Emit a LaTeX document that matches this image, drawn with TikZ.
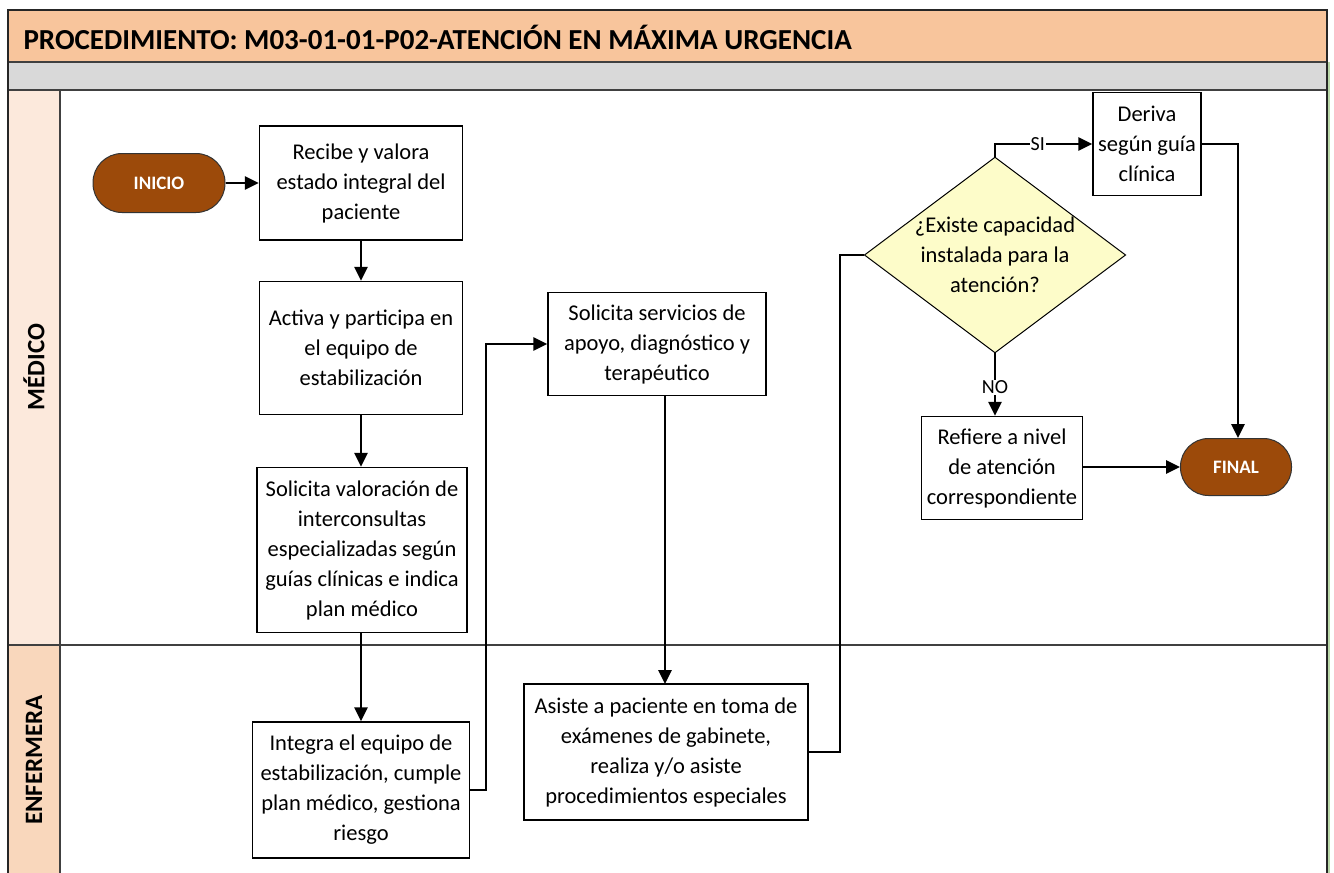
\documentclass[tikz,border=0pt]{standalone}
\usepackage{fontspec}
\setmainfont{Carlito}
\usetikzlibrary{arrows.meta,shapes.geometric}

\definecolor{titlefill}{HTML}{F8C59C}
\definecolor{bandgrey}{HTML}{D9D9D9}
\definecolor{medlane}{HTML}{FCE9DC}
\definecolor{enflane}{HTML}{F9D7BC}
\definecolor{termbrown}{HTML}{9C4A0A}
\definecolor{decfill}{HTML}{FDFCC9}
\definecolor{edgegreen}{HTML}{B9D7A8}

\tikzset{
  bodytext/.style={font=\fontsize{22.5}{30}\selectfont},
  procbox/.style={draw=black, line width=1.5, fill=white, align=center,
    inner sep=0pt, bodytext},
  terminal/.style={draw=black!80, line width=1, fill=termbrown, rounded corners=29,
    text=white, font=\bfseries\fontsize{19}{22}\selectfont, inner sep=0pt},
  decision/.style={diamond, draw=black, line width=1, fill=decfill, align=center,
    inner sep=0pt, aspect=1.335, bodytext},
  conn/.style={draw=black, line width=2.8, -{Triangle[length=14, width=13]}},
  plainconn/.style={draw=black, line width=2.8},
  edgelabel/.style={fill=white, inner sep=1pt, font=\fontsize{20}{22}\selectfont},
  lanelabel/.style={rotate=90, font=\bfseries\fontsize{25}{28}\selectfont},
}

\begin{document}
\begin{tikzpicture}[x=1pt, y=-1pt]
\useasboundingbox (0,0) rectangle (1334,873);
\fill[white] (0,0) rectangle (1334,873);

% header bands
\fill[titlefill] (8,10) rectangle (1327,62);
\fill[bandgrey] (8,62) rectangle (1327,90);
\node[anchor=west, font=\bfseries\fontsize{29}{34}\selectfont] (title) at (20,37)
  {PROCEDIMIENTO: M03-01-01-P02-ATENCIÓN EN MÁXIMA URGENCIA};

% swimlane label column
\fill[medlane] (8,90) rectangle (60,645);
\fill[enflane] (8,645) rectangle (60,873);
\node[lanelabel] (lmed) at (34,367) {MÉDICO};
\node[lanelabel] (lenf) at (34,760) {ENFERMERA};

% frame and lane rules
\draw[edgegreen, line width=1.5] (1329,62) -- (1329,873);
\draw[black!75, line width=1.5] (8,62) -- (1327,62);
\draw[black!75, line width=1.5] (8,90) -- (1327,90);
\draw[black!75, line width=1.5] (8,645) -- (1327,645);
\draw[black!75, line width=1.2] (60,90) -- (60,873);
\draw[black!85, line width=2.5] (8,873) -- (8,10) -- (1327,10) -- (1327,873);

% médico lane
\node[terminal, minimum width=132, minimum height=59] (inicio) at (159,183) {INICIO};
\node[procbox, minimum width=203, minimum height=114] (recibe) at (361,183)
  {Recibe y valora\\estado integral del\\paciente};
\node[procbox, minimum width=203, minimum height=133] (activa) at (361,348)
  {Activa y participa en\\el equipo de\\estabilización};
\node[procbox, minimum width=210, minimum height=165] (valora) at (362,550)
  {Solicita valoración de\\interconsultas\\especializadas según\\guías clínicas e indica\\plan médico};
\node[procbox, minimum width=218, minimum height=103] (apoyo) at (657,344)
  {Solicita servicios de\\apoyo, diagnóstico y\\terapéutico};
\node[decision, minimum width=259, minimum height=194] (capac) at (995,255)
  {¿Existe capacidad\\instalada para la\\atención?};
\node[procbox, minimum width=108, minimum height=103] (deriva) at (1147,144)
  {Deriva\\según guía\\clínica};
\node[procbox, minimum width=161, minimum height=103] (refiere) at (1002,468)
  {Refiere a nivel\\de atención\\correspondiente};
\node[terminal, minimum width=111, minimum height=57, rounded corners=28] (final) at (1236,467) {FINAL};

% enfermera lane
\node[procbox, minimum width=217, minimum height=136] (integra) at (361,790)
  {Integra el equipo de\\estabilización, cumple\\plan médico, gestiona\\riesgo};
\node[procbox, minimum width=284, minimum height=136] (asiste) at (666,752)
  {Asiste a paciente en toma de\\exámenes de gabinete,\\realiza y/o asiste\\procedimientos especiales};

% connectors
\coordinate (c1) at (486,790);
\coordinate (c2) at (840,752);
\coordinate (c3) at (1238,144);
\draw[conn] (inicio) -- (recibe);
\draw[conn] (recibe) -- (activa);
\draw[conn] (activa) -- (recibe.south |- valora.north);
\draw[conn] (recibe.south |- valora.south) -- (recibe.south |- integra.north);
\draw[conn] (integra.east |- c1) -- (c1) |- (apoyo.west);
\draw[conn] (665,396) -- (665,684);
\draw[plainconn] (asiste.east |- c2) -- (c2) |- (capac.west);
\draw[conn] (capac.north) |- node[edgelabel, pos=0.72] (si) {SI} (deriva.west);
\draw[conn] (capac.south) -- node[edgelabel, pos=0.54] (no) {NO} (capac.south |- refiere.north);
\draw[conn] (deriva.east) -- (c3) -- (c3 |- final.north);
\draw[conn] (refiere.east |- final.west) -- (final.west);
\end{tikzpicture}
\end{document}
